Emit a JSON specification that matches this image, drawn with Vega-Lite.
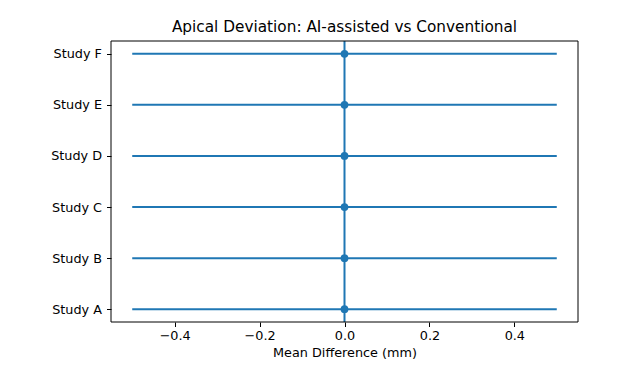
{
  "$schema": "https://vega.github.io/schema/vega-lite/v6.json",
  "autosize": {"type": "none"},
  "padding": {"left": 111, "top": 41, "right": 51, "bottom": 60},
  "width": 467,
  "height": 281,
  "background": "white",
  "title": {
    "text": "Apical Deviation: AI-assisted vs Conventional",
    "font": "DejaVu Sans",
    "fontSize": 15.3,
    "fontWeight": "normal",
    "color": "black",
    "anchor": "middle",
    "baseline": "alphabetic",
    "offset": -7
  },
  "datasets": {
    "studies": [
      {"study": "Study A", "mean": 0, "lower": -0.5, "upper": 0.5},
      {"study": "Study B", "mean": 0, "lower": -0.5, "upper": 0.5},
      {"study": "Study C", "mean": 0, "lower": -0.5, "upper": 0.5},
      {"study": "Study D", "mean": 0, "lower": -0.5, "upper": 0.5},
      {"study": "Study E", "mean": 0, "lower": -0.5, "upper": 0.5},
      {"study": "Study F", "mean": 0, "lower": -0.5, "upper": 0.5}
    ],
    "reference": [{"ref": 0, "xmin": -0.55, "xmax": 0.55}]
  },
  "layer": [
    {
      "data": {"name": "studies"},
      "mark": {"type": "rule", "color": "#1f77b4", "strokeWidth": 2},
      "encoding": {
        "y": {
          "field": "study",
          "type": "nominal",
          "sort": "descending",
          "scale": {"type": "point", "padding": 0.25},
          "axis": {"title": null}
        },
        "x": {
          "field": "lower",
          "type": "quantitative",
          "scale": {"domain": [-0.55, 0.55], "nice": false, "zero": false},
          "axis": {
            "title": "Mean Difference (mm)",
            "values": [-0.4, -0.2, 0, 0.2, 0.4],
            "format": ".1f"
          }
        },
        "x2": {"field": "upper"}
      }
    },
    {
      "data": {"name": "reference"},
      "mark": {"type": "rule", "color": "#1f77b4", "strokeWidth": 2},
      "encoding": {
        "x": {"field": "ref", "type": "quantitative"}
      }
    },
    {
      "data": {"name": "studies"},
      "mark": {"type": "point", "filled": true, "opacity": 1, "color": "#1f77b4", "size": 60},
      "encoding": {
        "y": {"field": "study", "type": "nominal", "sort": "descending"},
        "x": {"field": "mean", "type": "quantitative"}
      }
    },
    {
      "data": {"name": "reference"},
      "mark": {"type": "rect", "fill": null, "fillOpacity": 0, "stroke": "black", "strokeWidth": 1, "clip": false},
      "encoding": {
        "x": {"field": "xmin", "type": "quantitative"},
        "x2": {"field": "xmax"}
      }
    }
  ],
  "config": {
    "view": {"stroke": null},
    "axis": {
      "domain": false,
      "grid": false,
      "ticks": true,
      "tickColor": "black",
      "tickWidth": 1,
      "tickSize": 4.5,
      "labelFont": "DejaVu Sans",
      "labelFontSize": 12.8,
      "labelColor": "black",
      "titleFont": "DejaVu Sans",
      "titleFontSize": 12.8,
      "titleFontWeight": "normal",
      "titleColor": "black"
    },
    "axisY": {"labelPadding": 5},
    "axisX": {"labelPadding": 3, "titlePadding": 4}
  }
}
